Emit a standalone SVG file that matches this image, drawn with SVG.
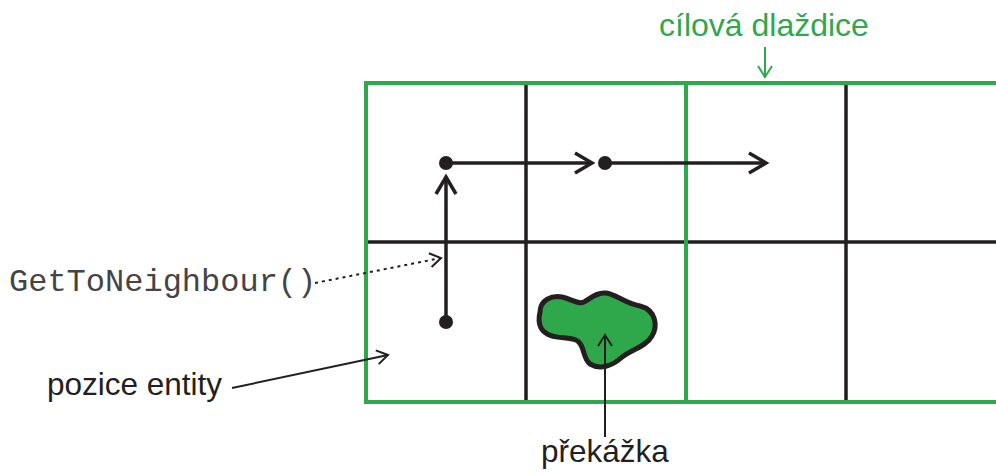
<svg xmlns="http://www.w3.org/2000/svg" width="996" height="473" viewBox="0 0 996 473">
<style>
.grid{stroke:#231f20;stroke-width:3.5;fill:none}
.gridg{stroke:#2ea84a;stroke-width:4;fill:none}
.path{stroke:#231f20;stroke-width:3.5;fill:none}
.thin{stroke:#231f20;stroke-width:2;fill:none}
.dot{fill:#231f20}
.lbl{font-family:"Liberation Sans",Arial,sans-serif;font-size:31.5px;fill:#231f20}
.mono{font-family:"Liberation Mono","Courier New",monospace;font-size:32px;fill:#444}
</style>
<defs>
<marker id="bigHead" markerUnits="userSpaceOnUse" viewBox="-20 -13 24 26" refX="0" refY="0" markerWidth="24" markerHeight="26" orient="auto" overflow="visible">
<path d="M -17 -10 L 0 0 L -17 10" fill="none" stroke="#231f20" stroke-width="3.5"/>
</marker>
<marker id="thinHead" markerUnits="userSpaceOnUse" viewBox="-14 -9 16 18" refX="0" refY="0" markerWidth="16" markerHeight="18" orient="auto" overflow="visible">
<path d="M -11 -7 L 0 0 L -11 7" fill="none" stroke="#231f20" stroke-width="2"/>
</marker>
<marker id="greenHead" markerUnits="userSpaceOnUse" viewBox="-14 -9 16 18" refX="0" refY="0" markerWidth="16" markerHeight="18" orient="auto" overflow="visible">
<path d="M -11 -7 L 0 0 L -11 7" fill="none" stroke="#2ea84a" stroke-width="2"/>
</marker>
</defs>
<rect width="996" height="473" fill="#ffffff"/>
<g id="grid">
<line class="grid" x1="526" y1="83" x2="526" y2="402"/>
<line class="grid" x1="846" y1="83" x2="846" y2="402"/>
<line class="grid" x1="366" y1="242" x2="996" y2="242"/>
<line class="gridg" x1="366" y1="83" x2="996" y2="83"/>
<line class="gridg" x1="366" y1="402" x2="996" y2="402"/>
<line class="gridg" x1="366" y1="81" x2="366" y2="404"/>
<line class="gridg" x1="686" y1="83" x2="686" y2="402"/>
</g>
<g id="obstacle">
<path d="M 540 312 C 540 300 552 295 562 297 C 572 299 578 305 584 302 C 590 299 596 292 606 293 C 616 294 624 303 640 306 C 656 310 658 326 652 336 C 646 347 630 350 621 358 C 612 366 600 370 590 364 C 582 358 585 344 576 340 C 566 336 548 340 541 328 C 538 322 539 316 540 312 Z" fill="#2ea84a" stroke="#231f20" stroke-width="5" stroke-linejoin="round"/>
</g>
<g id="dots">
<circle class="dot" cx="446" cy="322" r="7"/>
<circle class="dot" cx="446" cy="163" r="7"/>
<circle class="dot" cx="605" cy="163" r="7"/>
</g>
<g id="connectors">
<line class="path" x1="446" y1="322" x2="446" y2="177" marker-end="url(#bigHead)"/>
<line class="path" x1="446" y1="163" x2="592" y2="163" marker-end="url(#bigHead)"/>
<line class="path" x1="605" y1="163" x2="766" y2="163" marker-end="url(#bigHead)"/>
<line class="thin" x1="315" y1="283" x2="441" y2="258" stroke-dasharray="3 4" marker-end="url(#thinHead)"/>
<line class="thin" x1="232" y1="388" x2="388" y2="355" marker-end="url(#thinHead)"/>
<line class="thin" x1="605" y1="437" x2="605" y2="335" marker-end="url(#thinHead)"/>
<line x1="765" y1="47" x2="765" y2="77" stroke="#2ea84a" stroke-width="2" marker-end="url(#greenHead)"/>
</g>
<g id="labels">
<text class="mono" x="9" y="291">GetToNeighbour()</text>
<text class="lbl" x="47" y="395">pozice entity</text>
<text class="lbl" x="541" y="462">překážka</text>
<text class="lbl" x="659" y="36" style="fill:#2ea84a;font-size:32px">cílová dlaždice</text>
</g>
</svg>
